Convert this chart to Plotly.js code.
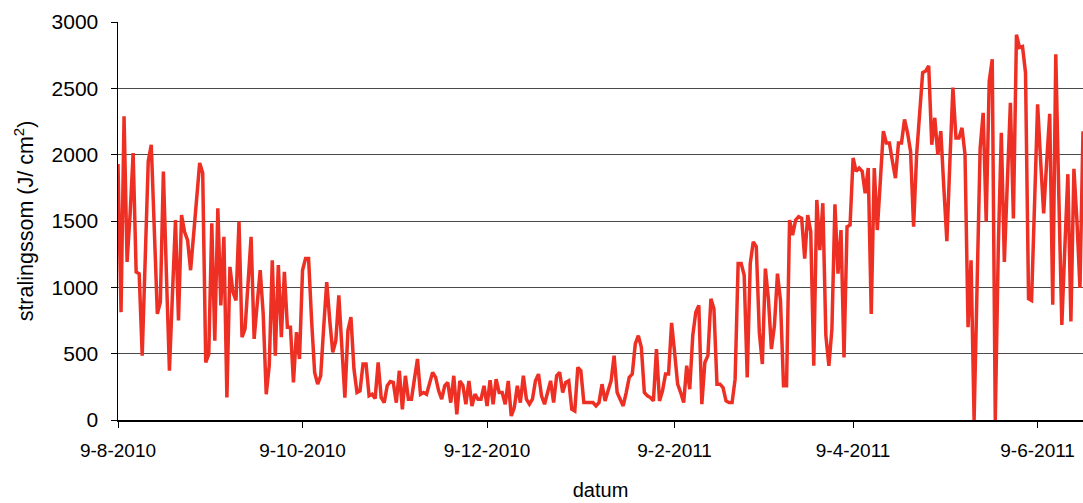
<!DOCTYPE html>
<html>
<head>
<meta charset="utf-8">
<script src="https://cdn.plot.ly/plotly-3.0.1.min.js"></script>
<style>
  html, body { margin: 0; padding: 0; background: #fff; }
  #chart { width: 1083px; height: 503px; }
</style>
</head>
<body>
<div id="chart"></div>
<script>
// First day of the daily series (d-m-yyyy: 9-8-2010)
const startDate = '2010-08-09';

// Daily radiation sums (J/cm2)
const stralingssom = [
  1930, 813, 2290, 1192, 1550, 2012, 1116, 1103, 485, 1300,
  1950, 2075, 1430, 800, 890, 1873, 1100, 371, 950, 1507,
  750, 1545, 1419, 1356, 1129, 1400, 1680, 1937, 1861, 434,
  497, 1482, 598, 1596, 864, 1381, 169, 1154, 965, 901,
  1495, 624, 687, 1000, 1381, 611, 870, 1129, 800, 194,
  409, 1204, 485, 1167, 624, 1116, 699, 699, 283, 662,
  460, 1129, 1217, 1217, 750, 359, 270, 333, 700, 1040,
  750, 510, 598, 939, 550, 169, 674, 775, 384, 207,
  220, 422, 422, 182, 194, 162, 434, 169, 131, 258,
  290, 283, 131, 371, 81, 333, 157, 157, 310, 460,
  194, 207, 194, 280, 359, 321, 220, 157, 258, 283,
  131, 333, 43, 295, 260, 119, 295, 106, 194, 157,
  157, 258, 106, 300, 119, 308, 207, 207, 119, 295,
  30, 93, 258, 131, 333, 157, 119, 157, 295, 346,
  182, 119, 200, 295, 131, 333, 359, 207, 283, 295,
  81, 68, 396, 371, 131, 131, 131, 131, 106, 131,
  270, 144, 220, 295, 485, 207, 157, 106, 207, 321,
  346, 573, 636, 548, 207, 182, 169, 144, 535, 144,
  220, 346, 346, 732, 510, 270, 207, 131, 409, 232,
  636, 813, 864, 119, 434, 485, 914, 838, 270, 270,
  245, 144, 131, 131, 308, 1179, 1179, 1091, 321, 1179,
  1343, 1305, 662, 422, 1141, 914, 535, 712, 1103, 900,
  258, 258, 1507, 1394, 1507, 1533, 1520, 1217, 1545, 1419,
  409, 1659, 1280, 1634, 636, 409, 687, 1626, 1103, 1432,
  472, 1457, 1470, 1975, 1874, 1899, 1874, 1709, 1899, 800,
  1899, 1432, 1800, 2177, 2088, 2088, 1950, 1823, 2088, 2088,
  2265, 2164, 2025, 1457, 2000, 2300, 2618, 2631, 2669, 2075,
  2278, 2000, 2177, 1750, 1348, 1950, 2505, 2126, 2126, 2202,
  2000, 699, 1204, 0, 1100, 2050, 2315, 1495, 2555, 2719,
  0, 1300, 2164, 1192, 1800, 2391, 1520, 2904, 2808, 2815,
  2618, 914, 901, 1600, 2379, 1950, 1558, 1950, 2308, 869,
  2757, 1700, 717, 1300, 1853, 742, 1894, 1500, 995, 2177
];

// Tick positions (dates) and their labels
const tickDates  = ['2010-08-09', '2010-10-09', '2010-12-09', '2011-02-09', '2011-04-09', '2011-06-09'];
const tickLabels = ['9-8-2010', '9-10-2010', '9-12-2010', '9-2-2011', '9-4-2011', '9-6-2011'];
const yTicks = [0, 500, 1000, 1500, 2000, 2500, 3000];

// Build daily date strings (UTC, one per value)
function dayString(start, offset) {
  const p = start.split('-').map(Number);
  const d = new Date(Date.UTC(p[0], p[1] - 1, p[2] + offset));
  return d.toISOString().slice(0, 10);
}
const datum = stralingssom.map((_, i) => dayString(startDate, i));

const font = 'Liberation Sans, Arial, Helvetica, sans-serif';

const trace = {
  x: datum,
  y: stralingssom,
  type: 'scatter',
  mode: 'lines',
  line: { color: '#EE3024', width: 3.5 },
  hoverinfo: 'x+y'
};

const layout = {
  width: 1083,
  height: 503,
  margin: { l: 118, r: 0, t: 22, b: 83 },
  paper_bgcolor: '#ffffff',
  plot_bgcolor: '#ffffff',
  showlegend: false,
  font: { family: font, color: '#000' },
  xaxis: {
    type: 'date',
    range: [datum[0], datum[datum.length - 1]],
    tickmode: 'array',
    tickvals: tickDates,
    ticktext: tickLabels,
    ticks: 'outside',
    ticklen: 6,
    tickwidth: 1,
    tickcolor: '#000',
    ticklabelstandoff: 7,
    showline: true,
    linecolor: '#000',
    linewidth: 1.5,
    showgrid: false,
    zeroline: false,
    tickfont: { family: font, size: 19, color: '#000' },
    title: { text: 'datum', font: { family: font, size: 20, color: '#000' }, standoff: 22 }
  },
  yaxis: {
    range: [0, 3000],
    tickmode: 'array',
    tickvals: yTicks,
    ticks: 'outside',
    ticklen: 6,
    tickwidth: 1,
    tickcolor: '#000',
    ticklabelstandoff: 8,
    showline: true,
    linecolor: '#000',
    linewidth: 1.5,
    showgrid: true,
    gridcolor: '#4a4a4a',
    gridwidth: 1,
    zeroline: false,
    tickfont: { family: font, size: 21, color: '#000' },
    title: { text: 'stralingssom (J/ cm<sup>2</sup>)', font: { family: font, size: 21.5, color: '#000' }, standoff: 12 }
  }
};

Plotly.newPlot('chart', [trace], layout, { displayModeBar: false, staticPlot: true });
</script>
</body>
</html>
